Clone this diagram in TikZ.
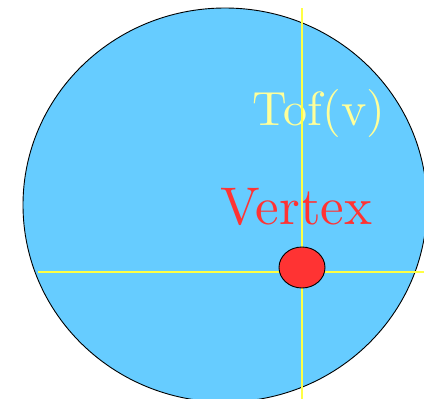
\documentclass[tikz,border=0pt]{standalone}
\usepackage{xcolor}
\usepackage{tikz}
\usetikzlibrary{shapes.geometric}
\definecolor{skyfill}{HTML}{66CCFF}
\definecolor{axisyellow}{HTML}{FFFF44}
\definecolor{labelyellow}{HTML}{FFFF99}
\definecolor{vertexred}{HTML}{FF3333}
\begin{document}
\begin{tikzpicture}[
  x=1pt, y=-1pt,
  region/.style={draw=black, fill=skyfill, line width=0.9pt},
  axis/.style={draw=axisyellow, line width=2.2pt},
  vertexdot/.style={ellipse, draw=black, fill=vertexred, line width=0.9pt, minimum width=46pt, minimum height=41pt, inner sep=0pt},
  biglabel/.style={font=\normalsize, anchor=base, inner sep=0pt}
]
\useasboundingbox (0,0) rectangle (424,399);
\node[ellipse, region, minimum width=404pt, minimum height=394pt, inner sep=0pt] (region) at (225,205) {};
\node[biglabel, text=labelyellow] (tof) at (319,125) {\scalebox{4.8}{Tof(v)}};
\node[biglabel, text=vertexred] (label) at (296.5,224) {\scalebox{5.3}{Vertex}};
\coordinate (top) at (302,8);
\coordinate (bottom) at (302,399);
\coordinate (left) at (38,272);
\coordinate (right) at (424,272);
\draw[axis] (top) -- (bottom);
\draw[axis] (left) -- (right);
\node[vertexdot] (vertex) at (302,267.5) {};
\end{tikzpicture}
\end{document}
